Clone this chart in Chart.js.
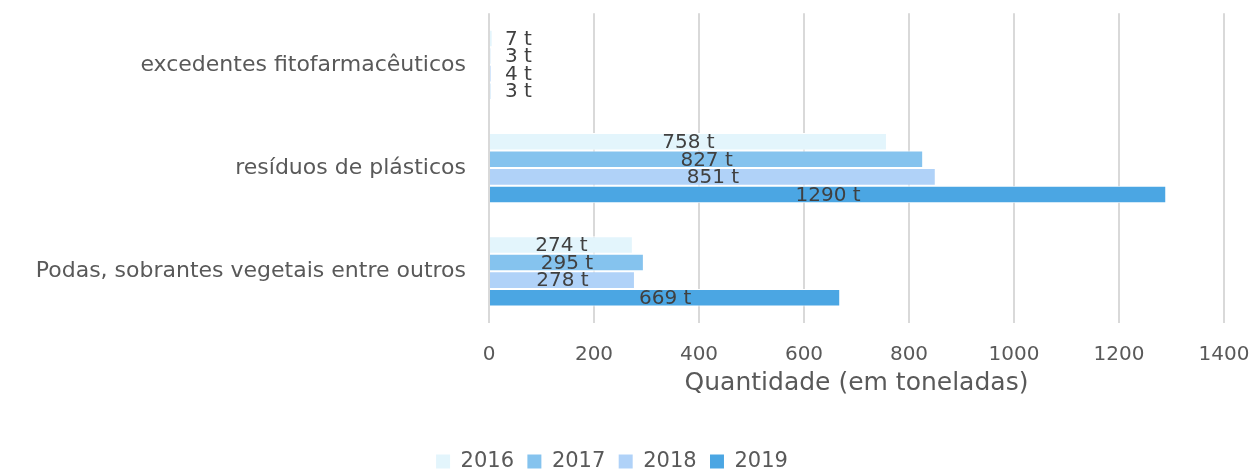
<!DOCTYPE html>
<html>
<head>
<meta charset="utf-8">
<script src="https://cdn.jsdelivr.net/npm/chart.js@4.4.0/dist/chart.umd.min.js"></script>
<style>
	html, body { margin: 0; padding: 0; background: #fff; }
	#wrap { width: 1252px; height: 473px; }
</style>
</head>
<body>
<div id="wrap"><canvas id="chart" width="1252" height="473"></canvas></div>
<script>
var categories = ['excedentes fitofarmacêuticos', 'resíduos de plásticos', 'Podas, sobrantes vegetais entre outros'];
var years = ['2016', '2017', '2018', '2019'];
var values2016 = [7, 758, 274];
var values2017 = [3, 827, 295];
var values2018 = [4, 851, 278];
var values2019 = [3, 1290, 669];
var xTicks = [0, 200, 400, 600, 800, 1000, 1200, 1400];
var colors = ['#E3F5FC', '#85C3EE', '#B0D2F8', '#4BA6E3'];

var FONT = '"DejaVu Sans", sans-serif';

// draws "N t" in the middle of every bar
var barLabels = {
	id: 'barLabels',
	afterDatasetsDraw: function(chart) {
		var ctx = chart.ctx,
			area = chart.chartArea;
		ctx.save();
		ctx.font = '20px ' + FONT;
		ctx.fillStyle = '#404040';
		ctx.textAlign = 'center';
		ctx.textBaseline = 'middle';
		chart.data.datasets.forEach(function(ds, i) {
			var meta = chart.getDatasetMeta(i);
			meta.data.forEach(function(bar, j) {
				var text = ds.data[j] + ' t',
					w = ctx.measureText(text).width,
					x = (bar.base + bar.x) / 2;
				if (x - w / 2 < area.left + 16) x = area.left + 16 + w / 2;
				ctx.fillText(text, x, bar.y + 1);
			});
		});
		ctx.restore();
	}
};

var ctx = document.getElementById('chart').getContext('2d');
new Chart(ctx, {
	type: 'bar',
	data: {
		labels: categories,
		datasets: [values2016, values2017, values2018, values2019].map(function(vals, i) {
			return {
				label: years[i],
				data: vals,
				backgroundColor: colors[i],
				borderColor: '#ffffff',
				borderWidth: 1,
				categoryPercentage: 0.68,
				barPercentage: 1.0
			};
		})
	},
	options: {
		indexAxis: 'y',
		responsive: false,
		animation: false,
		layout: { padding: { top: 13, right: 28, bottom: 0, left: 0 } },
		plugins: {
			tooltip: { enabled: false },
			legend: {
				position: 'bottom',
				maxHeight: 22,
				labels: {
					font: { family: FONT, size: 21 },
					color: '#595959',
					boxWidth: 14,
					boxHeight: 14,
					padding: 0,
					// spacing between items comes from trailing spaces, keeps the legend low
					generateLabels: function(chart) {
						var items = Chart.defaults.plugins.legend.labels.generateLabels(chart);
						items.forEach(function(item, i) {
							if (i < items.length - 1) item.text = item.text + '  ';
							item.lineWidth = 0;
						});
						return items;
					}
				}
			}
		},
		scales: {
			x: {
				min: 0,
				max: 1400,
				afterBuildTicks: function(scale) {
					scale.ticks = xTicks.map(function(v) { return { value: v }; });
				},
				grid: { color: '#d9d9d9', lineWidth: 2, drawTicks: false },
				border: { display: false },
				ticks: {
					font: { family: FONT, size: 20 },
					color: '#595959',
					padding: 20,
					callback: function(v) { return String(v); }
				},
				title: {
					display: true,
					text: 'Quantidade (em toneladas)',
					font: { family: FONT, size: 25 },
					color: '#595959',
					padding: { top: 0, bottom: 53 }
				},
				afterFit: function(scale) {
					scale.height = 128;
					scale.paddingLeft = 0;
					scale.paddingRight = 0;
				}
			},
			y: {
				grid: { display: false, drawTicks: true, tickLength: 23 },
				border: { display: false },
				ticks: {
					font: { family: FONT, size: 22 },
					color: '#595959',
					padding: 0
				},
				afterFit: function(scale) { scale.width = 489; }
			}
		}
	},
	plugins: [barLabels]
});
</script>
</body>
</html>
